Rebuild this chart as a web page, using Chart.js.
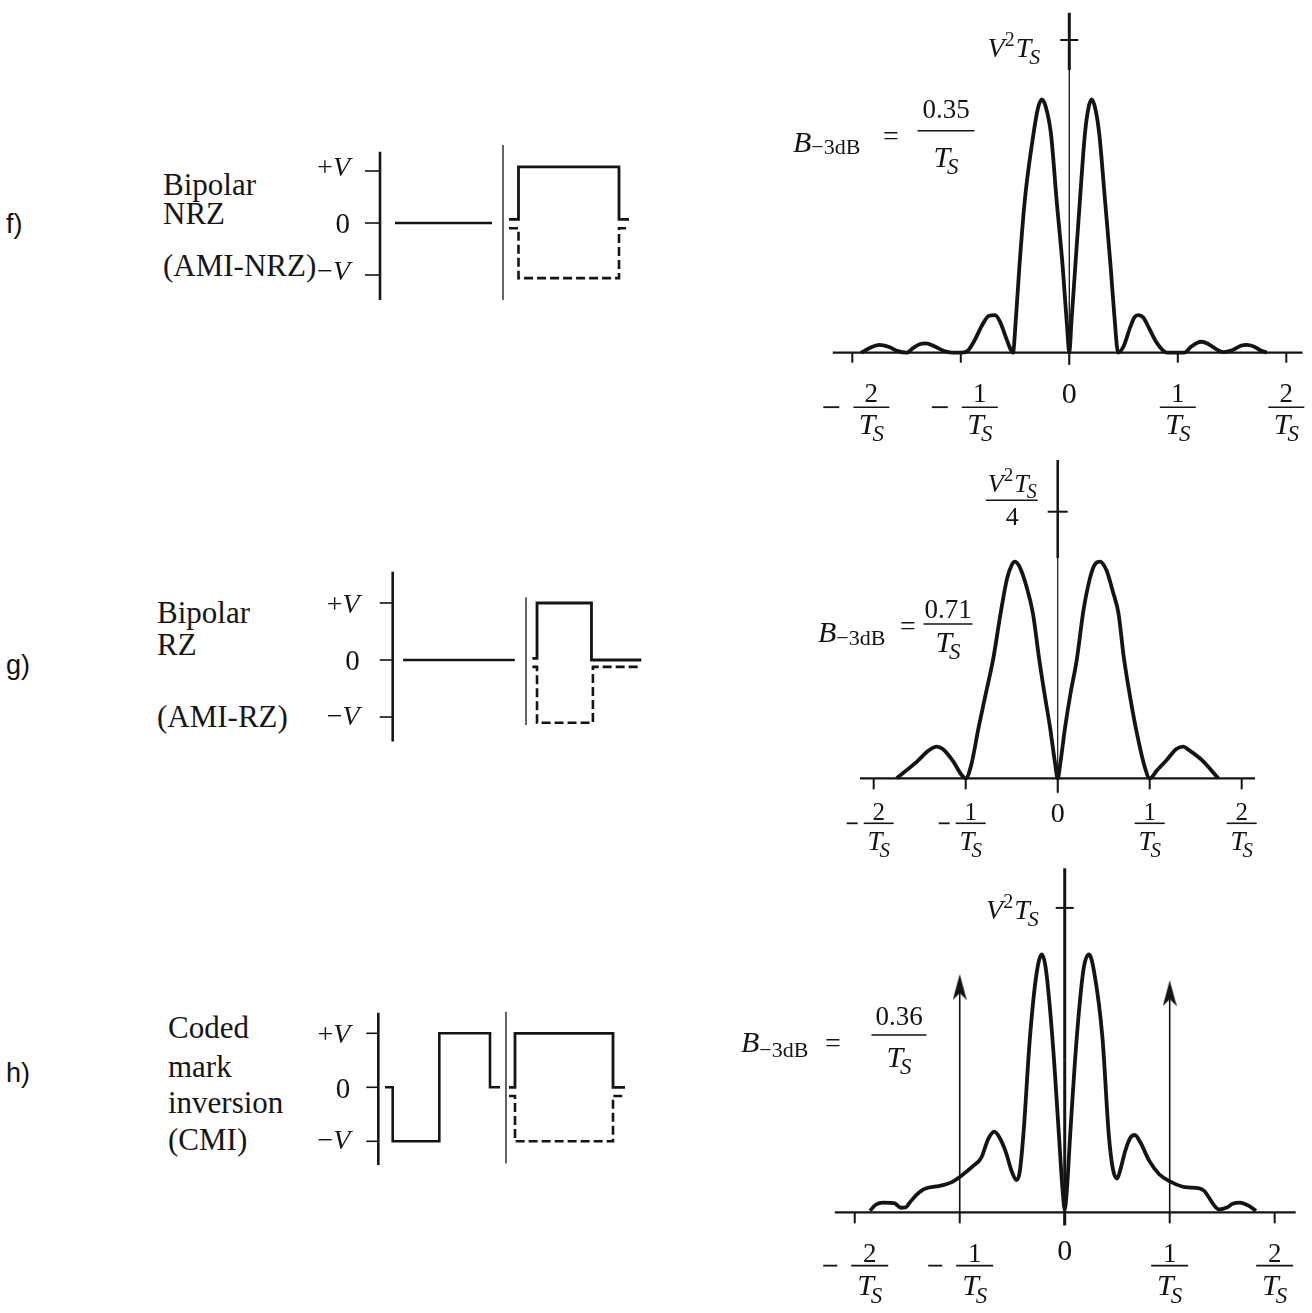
<!DOCTYPE html>
<html>
<head>
<meta charset="utf-8">
<title>Line code spectra</title>
<script src="https://cdn.jsdelivr.net/npm/chart.js@4.4.1/dist/chart.umd.min.js"></script>
<style>
  html, body { margin: 0; padding: 0; background: #fff; }
  body { position: relative; width: 1312px; height: 1313px; overflow: hidden; }
  canvas { position: absolute; }
  .tag { position: absolute; font: 27px/27px "Liberation Sans", Arial, sans-serif; color: #111; }
  .txt { position: absolute; font: 31px/31px "Liberation Serif", "Times New Roman", serif; color: #161616; white-space: nowrap; }
</style>
</head>
<body>
<div class="tag" style="left:6px;top:211px">f)</div>
<div class="tag" style="left:6px;top:652px">g)</div>
<div class="tag" style="left:6px;top:1060px">h)</div>

<div class="txt" style="left:163px;top:169px">Bipolar</div>
<div class="txt" style="left:163px;top:198px">NRZ</div>
<div class="txt" style="left:163px;top:250px">(AMI-NRZ)</div>

<div class="txt" style="left:157px;top:597px">Bipolar</div>
<div class="txt" style="left:157px;top:629px">RZ</div>
<div class="txt" style="left:157px;top:701px">(AMI-RZ)</div>

<div class="txt" style="left:168px;top:1012px">Coded</div>
<div class="txt" style="left:168px;top:1051px">mark</div>
<div class="txt" style="left:168px;top:1087px">inversion</div>
<div class="txt" style="left:168px;top:1124px">(CMI)</div>

<canvas id="waveF"></canvas>
<canvas id="waveG"></canvas>
<canvas id="waveH"></canvas>
<canvas id="psdF"></canvas>
<canvas id="psdG"></canvas>
<canvas id="psdH"></canvas>

<script>
// ---------- data ----------
// frequency axis ticks, in units of 1/Ts
var tickFreq = [-2, -1, 0, 1, 2];
var tickNum = ['2', '1', '0', '1', '2'];

// f) bipolar NRZ spectrum, y in V^2*Ts
var freqF = [-1.92, -1.84, -1.75, -1.66, -1.58, -1.5, -1.44, -1.38, -1.32, -1.24, -1.16, -1.08, -1.0, -0.94, -0.88, -0.8, -0.74, -0.685, -0.64, -0.58, -0.54, -0.52, -0.49, -0.46, -0.41, -0.33, -0.29, -0.255, -0.22, -0.169, -0.117, -0.061, -0.02, 0, 0.02, 0.05, 0.098, 0.144, 0.175, 0.206, 0.24, 0.276, 0.329, 0.381, 0.415, 0.45, 0.5, 0.56, 0.6, 0.636, 0.68, 0.74, 0.8, 0.86, 0.9, 0.98, 1.06, 1.12, 1.18, 1.22, 1.28, 1.36, 1.42, 1.5, 1.58, 1.634, 1.7, 1.76, 1.82];
var psdF = [0, 0.015, 0.025, 0.018, 0.005, 0, 0.015, 0.027, 0.03, 0.02, 0.006, 0, 0, 0.005, 0.035, 0.09, 0.118, 0.12, 0.1, 0.045, 0.01, 0, 0.12, 0.275, 0.488, 0.70, 0.78, 0.81, 0.79, 0.70, 0.488, 0.275, 0.08, 0, 0.1, 0.25, 0.488, 0.70, 0.78, 0.81, 0.78, 0.70, 0.488, 0.275, 0.12, 0, 0.02, 0.08, 0.113, 0.12, 0.113, 0.075, 0.035, 0.008, 0, 0, 0, 0.018, 0.032, 0.035, 0.028, 0.01, 0.002, 0.008, 0.022, 0.025, 0.02, 0.008, 0];

// g) bipolar RZ spectrum, y in V^2*Ts/4
var freqG = [-1.75, -1.53, -1.4, -1.315, -1.25, -1.134, -1.05, -1.0, -0.94, -0.86, -0.78, -0.7, -0.62, -0.55, -0.5, -0.464, -0.41, -0.34, -0.27, -0.2, -0.14, -0.083, -0.03, 0, 0.03, 0.08, 0.14, 0.207, 0.28, 0.35, 0.4, 0.46, 0.53, 0.6, 0.66, 0.72, 0.79, 0.86, 0.94, 1.0, 1.08, 1.185, 1.29, 1.366, 1.43, 1.565, 1.746];
var psdG = [0, 0.0625, 0.105, 0.119, 0.11, 0.0625, 0.015, 0, 0.05, 0.19, 0.32, 0.45, 0.62, 0.75, 0.80, 0.8125, 0.79, 0.72, 0.62, 0.444, 0.31, 0.19, 0.06, 0, 0.06, 0.19, 0.32, 0.444, 0.63, 0.75, 0.80, 0.8125, 0.78, 0.70, 0.62, 0.45, 0.30, 0.17, 0.05, 0, 0.03, 0.069, 0.11, 0.119, 0.105, 0.069, 0];

// h) CMI spectrum, y in V^2*Ts, plus the two discrete lines at +-1/Ts
var freqH = [-1.855, -1.80, -1.73, -1.625, -1.56, -1.517, -1.47, -1.41, -1.36, -1.317, -1.225, -1.15, -1.07, -0.978, -0.88, -0.794, -0.73, -0.67, -0.62, -0.563, -0.5, -0.46, -0.43, -0.394, -0.332, -0.27, -0.218, -0.18, -0.117, -0.055, -0.02, 0, 0.02, 0.052, 0.114, 0.18, 0.231, 0.28, 0.36, 0.42, 0.46, 0.5, 0.53, 0.575, 0.625, 0.668, 0.72, 0.806, 0.9, 1.012, 1.145, 1.283, 1.33, 1.375, 1.43, 1.468, 1.545, 1.6, 1.668, 1.75, 1.822];
var psdH = [0.005, 0.025, 0.032, 0.03, 0.015, 0.016, 0.035, 0.058, 0.072, 0.079, 0.085, 0.09, 0.1, 0.122, 0.15, 0.18, 0.24, 0.265, 0.245, 0.2, 0.13, 0.106, 0.13, 0.254, 0.571, 0.78, 0.847, 0.80, 0.571, 0.254, 0.07, 0.01, 0.07, 0.254, 0.571, 0.80, 0.847, 0.79, 0.571, 0.254, 0.14, 0.111, 0.14, 0.2, 0.245, 0.254, 0.23, 0.169, 0.125, 0.1, 0.083, 0.079, 0.07, 0.048, 0.02, 0.01, 0.016, 0.028, 0.032, 0.022, 0.005];
var lineFreqH = [-1, 1];
var lineTopH = [0.74, 0.72];

// waveforms: time in bit periods, level in V
var levelVal = [1, 0, -1];
var levelTxt = ['+V', '0', '\u2212V'];

var nrzZeroT = [0.15, 1.12], nrzZeroV = [0, 0];
var nrzSepT = [1.23, 1.23], nrzSepV = [1.5, -1.48];
var nrzT = [1.29, 1.385, 1.385, 2.39, 2.39, 2.49];
var nrzMarkV = [0.07, 0.07, 1.08, 1.08, 0.07, 0.07];
var nrzAltV = [-0.1, -0.1, -1.06, -1.06, -0.1, -0.1];

var rzZeroT = [0.095, 1.11], rzZeroV = [0, 0];
var rzSepT = [1.212, 1.212], rzSepV = [1.1, -1.14];
var rzMarkT = [1.27, 1.312, 1.312, 1.807, 1.807, 2.26];
var rzMarkV = [0.03, 0.03, 1.0, 1.0, 0, 0];
var rzAltT = [1.27, 1.312, 1.312, 1.82, 1.82, 2.26];
var rzAltV = [-0.12, -0.12, -1.1, -1.1, -0.12, -0.12];

var cmiZeroT = [0.067, 0.144, 0.144, 0.61, 0.61, 1.117, 1.117, 1.217];
var cmiZeroV = [0, 0, -1, -1, 1, 1, 0, 0];
var cmiSepT = [1.277, 1.277], cmiSepV = [1.4, -1.41];
var cmiT = [1.307, 1.367, 1.367, 2.347, 2.347, 2.467];
var cmiMarkV = [0, 0, 1, 1, 0, 0];
var cmiAltV = [-0.16, -0.16, -1, -1, -0.16, -0.16];

// ---------- helpers ----------
var INK = '#141414';
var SERIF = '"Liberation Serif", "Times New Roman", serif';
var decorFns = {};

var decor = {
    id: 'decor',
    beforeDatasetsDraw: function (chart) {
        var fn = decorFns[chart.canvas.id];
        if (!fn) return;
        var ctx = chart.ctx;
        ctx.save();
        ctx.strokeStyle = INK;
        ctx.fillStyle = INK;
        ctx.lineCap = 'butt';
        fn(chart, ctx, chart.scales.x, chart.scales.y);
        ctx.restore();
    }
};

function seg(ctx, x1, y1, x2, y2, w) {
    ctx.lineWidth = w;
    ctx.beginPath();
    ctx.moveTo(x1, y1);
    ctx.lineTo(x2, y2);
    ctx.stroke();
}

function series(xs, ys, o) {
    o = o || {};
    return {
        data: xs.map(function (x, i) { return { x: x, y: ys[i] }; }),
        showLine: true,
        borderColor: INK,
        backgroundColor: INK,
        borderWidth: o.w || 3,
        borderDash: o.dash || [],
        pointRadius: o.r || 0,
        pointStyle: o.style || 'circle',
        cubicInterpolationMode: o.smooth ? 'monotone' : 'default',
        tension: 0,
        borderCapStyle: 'butt',
        borderJoinStyle: o.smooth ? 'round' : 'miter',
        clip: false
    };
}

// box = [left, top, width, height] on the page; xo/yo = page pixel of value 0, xu/yu = pixels per unit
function build(id, box, xo, xu, yo, yu, sets, fn) {
    var c = document.getElementById(id);
    c.width = box[2];
    c.height = box[3];
    c.style.left = box[0] + 'px';
    c.style.top = box[1] + 'px';
    decorFns[id] = fn;
    return new Chart(c, {
        type: 'scatter',
        data: { datasets: sets },
        options: {
            responsive: false,
            animation: false,
            events: [],
            devicePixelRatio: 1,
            layout: { padding: 0 },
            plugins: { legend: { display: false }, tooltip: { enabled: false } },
            scales: {
                x: { type: 'linear', display: false, min: (box[0] - xo) / xu, max: (box[0] + box[2] - xo) / xu },
                y: { type: 'linear', display: false, min: (yo - box[1] - box[3]) / yu, max: (yo - box[1]) / yu }
            }
        },
        plugins: [decor]
    });
}

// italic T with subscript S, centred on cx
function drawTS(ctx, cx, base, s) {
    ctx.textAlign = 'left';
    ctx.font = 'italic ' + s + 'px ' + SERIF;
    var wT = ctx.measureText('T').width;
    var ss = Math.round(s * 0.78);
    ctx.font = 'italic ' + ss + 'px ' + SERIF;
    var wS = ctx.measureText('S').width;
    var x = cx - (wT + wS - 3) / 2;
    ctx.font = 'italic ' + s + 'px ' + SERIF;
    ctx.fillText('T', x, base);
    ctx.font = 'italic ' + ss + 'px ' + SERIF;
    ctx.fillText('S', x + wT - 3, base + s * 0.24);
}

function vtWidth(ctx, s) {
    ctx.font = 'italic ' + s + 'px ' + SERIF;
    var w = ctx.measureText('V').width + ctx.measureText('T').width - 2;
    ctx.font = Math.round(s * 0.72) + 'px ' + SERIF;
    w += ctx.measureText('2').width + 1;
    ctx.font = 'italic ' + Math.round(s * 0.78) + 'px ' + SERIF;
    return w + ctx.measureText('S').width;
}

function drawVT(ctx, x, base, s) {
    ctx.textAlign = 'left';
    ctx.font = 'italic ' + s + 'px ' + SERIF;
    ctx.fillText('V', x, base);
    x += ctx.measureText('V').width;
    ctx.font = Math.round(s * 0.72) + 'px ' + SERIF;
    ctx.fillText('2', x, base - s * 0.4);
    x += ctx.measureText('2').width + 1;
    ctx.font = 'italic ' + s + 'px ' + SERIF;
    ctx.fillText('T', x, base);
    x += ctx.measureText('T').width - 2;
    ctx.font = 'italic ' + Math.round(s * 0.78) + 'px ' + SERIF;
    ctx.fillText('S', x, base + s * 0.24);
}

function fracTick(ctx, cx, numBase, barY, tBase, num, ns, ts, bw) {
    ctx.font = ns + 'px ' + SERIF;
    ctx.textAlign = 'center';
    ctx.fillText(num, cx, numBase);
    seg(ctx, cx - bw / 2, barY, cx + bw / 2, barY, 1.6);
    drawTS(ctx, cx, tBase, ts);
}

// B_-3dB = 0.xx / Ts, given in page pixels
function drawB(ctx, b, box) {
    var ox = box[0], oy = box[1];
    ctx.textAlign = 'left';
    ctx.font = 'italic 30px ' + SERIF;
    ctx.fillText('B', b.bx - ox, b.by - oy);
    var wB = ctx.measureText('B').width;
    ctx.font = '22px ' + SERIF;
    ctx.fillText('\u22123dB', b.bx - ox + wB, b.by - oy + b.subDy);
    ctx.font = '28px ' + SERIF;
    ctx.fillText('=', b.eqX - ox, b.eqY - oy + 7);
    ctx.font = '27px ' + SERIF;
    ctx.textAlign = 'center';
    ctx.fillText(b.num, b.cx - ox, b.numBase - oy);
    seg(ctx, b.cx - ox - b.barW / 2, b.barY - oy, b.cx - ox + b.barW / 2, b.barY - oy, 1.4);
    drawTS(ctx, b.cx - ox, b.tBase - oy, 30);
}

function psdDecor(a, b, box) {
    return function (ch, ctx, sx, sy) {
        var X0 = sx.getPixelForValue(0), Y0 = sy.getPixelForValue(0);
        seg(ctx, sx.getPixelForValue(a.xFrom), Y0, sx.getPixelForValue(a.xTo), Y0, 2.2);
        tickFreq.forEach(function (f, i) {
            var px = sx.getPixelForValue(f);
            seg(ctx, px, Y0, px, Y0 + (f === 0 ? a.zeroTick : a.tick), 2);
            if (f === 0) {
                ctx.font = (a.num + 3) + 'px ' + SERIF;
                ctx.textAlign = 'center';
                ctx.fillText(tickNum[i], px, Y0 + a.zeroBase);
                return;
            }
            var cx = px + (f < 0 ? a.negShift : 0);
            fracTick(ctx, cx, Y0 + a.numBase, Y0 + a.bar, Y0 + a.tBase, tickNum[i], a.num, a.tsz, a.barW);
            if (f < 0) {
                var r = cx - a.barW / 2 - a.gap;
                seg(ctx, r - a.minus, Y0 + a.bar, r, Y0 + a.bar, 1.8);
            }
        });
        // vertical axis, thick above the curve and thin through it
        var yTop = sy.getPixelForValue(a.yTop), yMid = sy.getPixelForValue(a.yThick);
        seg(ctx, X0, yTop, X0, yMid, a.thick);
        seg(ctx, X0, yMid, X0, Y0 + a.yBelow, a.thin);
        var Y1 = sy.getPixelForValue(1);
        seg(ctx, X0 - a.ytick, Y1, X0 + a.ytick, Y1, 2);
        if (a.quarter) {
            var w = vtWidth(ctx, 26);
            var right = X0 + a.vtRight;
            drawVT(ctx, right - w, Y1 - 20, 26);
            seg(ctx, right - w - 2, Y1 - 11.5, right + 1, Y1 - 11.5, 1.4);
            ctx.font = '26px ' + SERIF;
            ctx.textAlign = 'center';
            ctx.fillText('4', right - w / 2, Y1 + 13);
        } else {
            var w2 = vtWidth(ctx, 28);
            drawVT(ctx, X0 + a.vtRight - w2, Y1 + a.vtDy, 28);
        }
        drawB(ctx, b, box);
    };
}

function levelLabel(ctx, t, right, base, s) {
    ctx.textAlign = 'left';
    if (t === '0') {
        ctx.font = (s + 1) + 'px ' + SERIF;
        ctx.fillText(t, right - ctx.measureText(t).width, base);
        return;
    }
    ctx.font = 'italic ' + s + 'px ' + SERIF;
    var wV = ctx.measureText('V').width;
    ctx.font = s + 'px ' + SERIF;
    var wS = ctx.measureText(t[0]).width;
    ctx.fillText(t[0], right - wV - wS, base);
    ctx.font = 'italic ' + s + 'px ' + SERIF;
    ctx.fillText('V', right - wV, base);
}

function waveDecor(w) {
    return function (ch, ctx, sx, sy) {
        var X0 = sx.getPixelForValue(0);
        seg(ctx, X0, sy.getPixelForValue(w.top), X0, sy.getPixelForValue(w.bottom), 2.6);
        levelVal.forEach(function (v, i) {
            var py = sy.getPixelForValue(v);
            seg(ctx, X0 - w.tick, py, X0, py, 1.6);
            levelLabel(ctx, levelTxt[i], X0 - w.gap, py + w.dy[i], 28);
        });
    };
}

// barbed arrow head used as point style for the discrete lines
var arrowImg = document.createElement('canvas');
arrowImg.width = 14;
arrowImg.height = 26;
(function () {
    var g = arrowImg.getContext('2d');
    g.fillStyle = INK;
    g.beginPath();
    g.moveTo(7, 0);
    g.lineTo(0, 26);
    g.lineTo(7, 19);
    g.lineTo(14, 26);
    g.closePath();
    g.fill();
})();

// ---------- waveforms ----------
var DASH = [9, 4];

build('waveF', [300, 130, 340, 190], 380, 100, 223, 52, [
    series(nrzZeroT, nrzZeroV, { w: 2.6 }),
    series(nrzSepT, nrzSepV, { w: 1.3 }),
    series(nrzT, nrzMarkV, { w: 2.8 }),
    series(nrzT, nrzAltV, { w: 2.6, dash: DASH })
], waveDecor({ top: 1.37, bottom: -1.48, tick: 15, gap: 30, dy: [5, 10, 5] }));

build('waveG', [300, 560, 350, 200], 392.7, 110, 660, 57, [
    series(rzZeroT, rzZeroV, { w: 2.6 }),
    series(rzSepT, rzSepV, { w: 1.3 }),
    series(rzMarkT, rzMarkV, { w: 2.8 }),
    series(rzAltT, rzAltV, { w: 2.6, dash: DASH })
], waveDecor({ top: 1.55, bottom: -1.43, tick: 13, gap: 33, dy: [10, 10, 8] }));

build('waveH', [300, 990, 340, 200], 378.3, 100, 1087.3, 54, [
    series(cmiZeroT, cmiZeroV, { w: 2.6 }),
    series(cmiSepT, cmiSepV, { w: 1.3 }),
    series(cmiT, cmiMarkV, { w: 2.8 }),
    series(cmiT, cmiAltV, { w: 2.6, dash: DASH })
], waveDecor({ top: 1.38, bottom: -1.44, tick: 12, gap: 28, dy: [10, 11, 8] }));

// ---------- spectra ----------
var boxF = [780, 0, 532, 460];
build('psdF', boxF, 1069.3, 108.5, 352.7, 312.7, [
    series(freqF, psdF, { w: 3.8, smooth: true })
], psdDecor({
    xFrom: -2.18, xTo: 2.15, tick: 10, zeroTick: 12,
    num: 27, tsz: 30, zeroBase: 50, numBase: 49, bar: 54.5, tBase: 81,
    negShift: 19, gap: 14, minus: 16, barW: 36,
    yTop: 1.087, yThick: 0.904, yBelow: 12, thick: 3, thin: 1.3, ytick: 9,
    vtRight: -29, vtDy: 17
}, {
    bx: 793, by: 152, subDy: 2, eqX: 883, eqY: 137.5,
    num: '0.35', cx: 946, numBase: 118, barY: 130.7, barW: 57, tBase: 167
}, boxF));

var boxG = [780, 460, 532, 420];
build('psdG', boxG, 1057.7, 92, 778.3, 266.6, [
    series(freqG, psdG, { w: 3.8, smooth: true })
], psdDecor({
    xFrom: -2.149, xTo: 2.145, tick: 11, zeroTick: 14,
    num: 25, tsz: 27, zeroBase: 43.5, numBase: 42, bar: 45, tBase: 72,
    negShift: 5, gap: 6, minus: 11, barW: 30,
    yTop: 1.2, yThick: 0.826, yBelow: 15, thick: 2.5, thin: 1.2, ytick: 10,
    vtRight: -21, quarter: true
}, {
    bx: 818, by: 642, subDy: 3, eqX: 900, eqY: 628,
    num: '0.71', cx: 948, numBase: 618, barY: 624, barW: 49, tBase: 652
}, boxG));

var boxH = [720, 860, 592, 453];
var spikes = lineFreqH.map(function (f, i) {
    return series([f, f], [0, lineTopH[i]], { w: 1.6, r: [0, 6], style: arrowImg });
});
build('psdH', boxH, 1066, 107.75, 1216.7, 315, [
    series(freqH, psdH, { w: 3.8, smooth: true })
].concat(spikes), psdDecor({
    xFrom: -2.19, xTo: 2.2, tick: 11, zeroTick: 13,
    num: 27, tsz: 30, zeroBase: 48, numBase: 50, bar: 53.3, tBase: 83,
    negShift: 15, gap: 14, minus: 14, barW: 37,
    yTop: 1.13, yThick: 0.5, yBelow: 13, thick: 3, thin: 3, ytick: 9,
    vtRight: -26, vtDy: 11
}, {
    bx: 741, by: 1052, subDy: 5, eqX: 825, eqY: 1045,
    num: '0.36', cx: 899, numBase: 1025, barY: 1035, barW: 55, tBase: 1067
}, boxH));
</script>
</body>
</html>
